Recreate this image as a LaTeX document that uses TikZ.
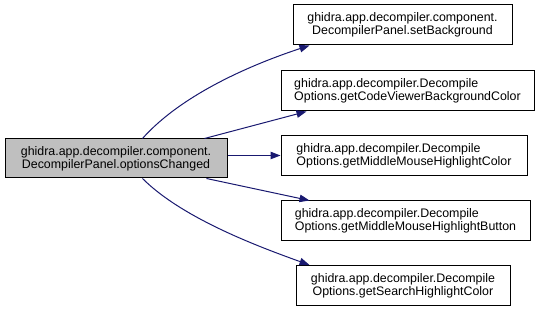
\documentclass[tikz,border=0pt]{standalone}
\usepackage{fontspec}
\setmainfont{Liberation Sans}
\usetikzlibrary{arrows.meta,calc}
\definecolor{edgeblue}{RGB}{25,25,112}
\definecolor{rootgray}{RGB}{191,191,191}
\begin{document}
\begin{tikzpicture}[x=0.75pt,y=-0.75pt,
  box/.style={draw=black,line width=0.75pt,fill=white,inner sep=0pt,
    minimum height=30pt,font=\fontsize{9.3pt}{10pt}\selectfont},
  root/.style={box,fill=rootgray,minimum height=29.25pt},
  call/.style={draw=edgeblue,line width=0.75pt,
    -{Triangle[length=7.5pt,width=5.6pt,fill=edgeblue]}}]
\useasboundingbox (0,0) rectangle (537,313);

\node[root,minimum width=166.5pt,align=center] (L) at (116,158.5)
  {ghidra.app.decompiler.component.\\DecompilerPanel.optionsChanged};

\node[box,minimum width=164.25pt,align=center] (N1) at (402.5,25)
  {ghidra.app.decompiler.component.\\DecompilerPanel.setBackground};
\node[box,minimum width=189.75pt,align=left] (N2) at (407.5,91)
  {ghidra.app.decompiler.Decompile\\Options.getCodeViewerBackgroundColor};
\node[box,minimum width=184.5pt,align=left] (N3) at (404,155.5)
  {ghidra.app.decompiler.Decompile\\Options.getMiddleMouseHighlightColor};
\node[box,minimum width=186.75pt,align=left] (N4) at (405.5,221)
  {ghidra.app.decompiler.Decompile\\Options.getMiddleMouseHighlightButton};
\node[box,minimum width=160.5pt,align=center] (N5) at (403,285.5)
  {ghidra.app.decompiler.Decompile\\Options.getSearchHighlightColor};

\draw[call] ($(L.north west)+(138,0)$) .. controls +(40,-45) and +(-55,18) .. ($(N1.south west)+(17,0)$);
\draw[call] ($(L.north west)+(200,0)$) -- ($(N2.south west)+(26,0)$);
\draw[call] (L.east |- N3.west) -- (N3.west);
\draw[call] ($(L.south west)+(202,0)$) -- ($(N4.north west)+(29,0)$);
\draw[call] ($(L.south west)+(138,0)$) .. controls +(40,40) and +(-50,-18) .. ($(N5.north west)+(14,0)$);
\end{tikzpicture}
\end{document}
